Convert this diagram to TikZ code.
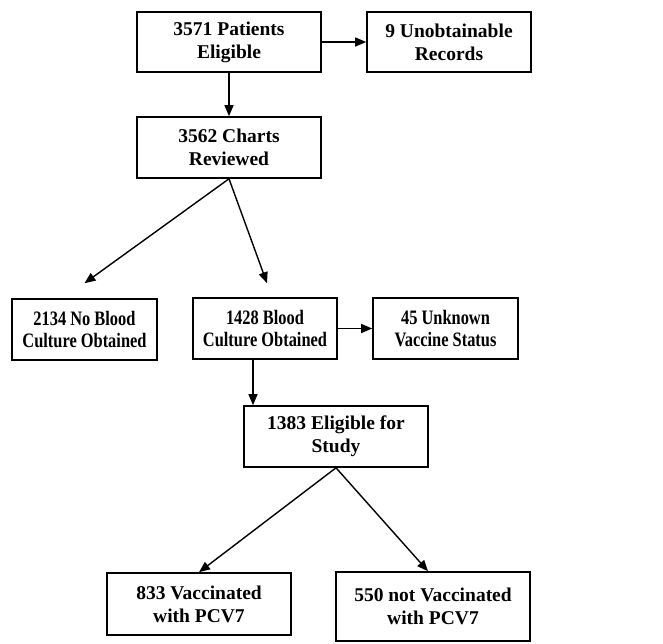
\documentclass[tikz,border=0pt]{standalone}
\usepackage{fontspec}
\setmainfont{Liberation Serif}
\newfontfamily\condfont{Liberation Serif}[FakeStretch=0.8]
\usetikzlibrary{arrows.meta,calc}
\begin{document}
\begin{tikzpicture}[x=1pt,y=-1pt,
  box/.style={draw, line width=1.6pt, inner sep=0pt, align=center,
    font=\fontsize{19.5}{23}\selectfont\bfseries},
  condbox/.style={box, font=\condfont\fontsize{20.5}{22.5}\selectfont\bfseries},
  arr/.style={-{Triangle[length=11pt,width=9pt]}, line width=1.4pt}]
\useasboundingbox (0,0) rectangle (663,644);
\node[box, minimum width=184pt, minimum height=60pt] (A) at (229,42) {3571 Patients\\Eligible};
\node[box, minimum width=164pt, minimum height=60pt] (B) at (449,42) {9 Unobtainable\\Records};
\node[box, minimum width=184pt, minimum height=61pt] (C) at (229,147.5) {3562 Charts\\Reviewed};
\node[condbox, minimum width=145pt, minimum height=61pt] (D) at (84.5,329.5) {2134 No Blood\\Culture Obtained};
\node[condbox, minimum width=144pt, minimum height=61pt] (E) at (265,328.5) {1428 Blood\\Culture Obtained};
\node[condbox, minimum width=145pt, minimum height=61pt] (F) at (445.5,328.5) {45 Unknown\\Vaccine Status};
\node[box, minimum width=184pt, minimum height=61pt] (G) at (336,436.5) {1383 Eligible for\\Study};
\node[box, minimum width=184pt, minimum height=62pt] (H) at (199,604) {833 Vaccinated\\with PCV7};
\node[box, minimum width=194pt, minimum height=69pt] (I) at (433,606.5) {550 not Vaccinated\\with PCV7};
\draw[arr] (A) -- (C);
\draw[arr] (A) -- (B);
\draw[arr] (C.south) -- ($(D.north)+(0,-15)$);
\draw[arr] (C.south) -- ($(E.north)+(2,-14)$);
\draw[arr] (E) -- (F);
\draw[arr] ([xshift=-12pt]E.south) -- ([xshift=-12pt]E.south |- G.north);
\draw[arr] (G.south) -- (H.north);
\draw[arr] (G.south) -- ([xshift=-5pt]I.north);
\end{tikzpicture}
\end{document}
